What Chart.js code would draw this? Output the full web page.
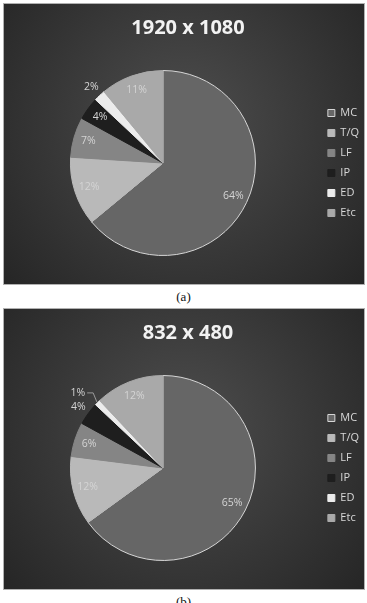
<!DOCTYPE html>
<html>
<head>
<meta charset="utf-8">
<script src="https://cdn.jsdelivr.net/npm/chart.js@4.4.0/dist/chart.umd.min.js"></script>
<style>
  html, body { margin: 0; padding: 0; background: #fff; }
  body { width: 367px; height: 603px; position: relative; overflow: hidden; }
  .panel { position: absolute; left: 3px; width: 362px; height: 282px; border: 1px solid #b0b0b0; box-sizing: border-box; }
  .panel canvas { display: block; }
  .cap { position: absolute; left: 0; width: 367px; text-align: center; font-family: "Liberation Serif", serif; font-size: 13px; color: #111; }
</style>
</head>
<body>
<div class="panel" style="top:3px"><canvas id="chartA" width="360" height="280"></canvas></div>
<div class="cap" style="top:289px">(a)</div>
<div class="panel" style="top:308px"><canvas id="chartB" width="360" height="280"></canvas></div>
<div class="cap" style="top:594px">(b)</div>
<script>
const categories = ['MC', 'T/Q', 'LF', 'IP', 'ED', 'Etc'];
const valuesA = [64, 12, 7, 4, 2, 11];
const valuesB = [65, 12, 6, 4, 1, 12];
const titleA = '1920 x 1080';
const titleB = '832 x 480';

const sliceColors = ['#666666', '#b9b9b9', '#858585', '#1e1e1e', '#ececec', '#a9a9a9'];
const sliceBorders = ['#d6d6d6', '#b9b9b9', '#858585', '#1e1e1e', '#ececec', '#a9a9a9'];

// dark radial background
const bgPlugin = {
    id: 'bg',
    beforeDraw(chart) {
        const {ctx, width, height} = chart;
        const g = ctx.createRadialGradient(width * 0.5, height * 0.42, 10, width * 0.5, height * 0.45, width * 0.72);
        g.addColorStop(0, '#4c4c4c');
        g.addColorStop(1, '#222222');
        ctx.save();
        ctx.fillStyle = g;
        ctx.fillRect(0, 0, width, height);
        ctx.restore();
    }
};

// percent labels on the slices
const pctPlugin = {
    id: 'pct',
    afterDatasetsDraw(chart, args, opts) {
        const {ctx} = chart;
        const meta = chart.getDatasetMeta(0);
        const data = chart.data.datasets[0].data;
        const outside = opts.outside || [];
        const leader = opts.leader || [];
        ctx.save();
        ctx.font = '10.5px "Open Sans", sans-serif';
        ctx.fillStyle = '#d4d4d4';
        ctx.textAlign = 'center';
        ctx.textBaseline = 'middle';
        meta.data.forEach((arc, i) => {
            const p = arc.getProps(['x', 'y', 'startAngle', 'endAngle', 'outerRadius'], true);
            const mid = (p.startAngle + p.endAngle) / 2;
            let r = p.outerRadius * 0.84;
            if (outside.includes(i)) r = p.outerRadius * 1.13;
            if (leader.includes(i)) r = p.outerRadius * 1.24;
            const lx = p.x + Math.cos(mid) * r - (leader.includes(i) ? 4 : 0);
            const ly = p.y + Math.sin(mid) * r + (leader.includes(i) ? 6 : 0);
            const txt = data[i] + '%';
            if (leader.includes(i)) {
                const w = ctx.measureText(txt).width;
                ctx.strokeStyle = '#9a9a9a';
                ctx.lineWidth = 1;
                ctx.beginPath();
                ctx.moveTo(lx + w / 2 + 2, ly);
                ctx.lineTo(lx + w / 2 + 8, ly);
                ctx.lineTo(p.x + Math.cos(mid) * p.outerRadius * 1.01, p.y + Math.sin(mid) * p.outerRadius * 1.01);
                ctx.stroke();
            }
            ctx.fillText(txt, lx, ly);
        });
        ctx.restore();
    }
};

function makePie(id, title, values, outside, leader) {
    return new Chart(document.getElementById(id), {
        type: 'pie',
        data: {
            labels: categories,
            datasets: [{
                data: values,
                backgroundColor: sliceColors,
                borderColor: sliceBorders,
                borderWidth: 1
            }]
        },
        options: {
            responsive: false,
            animation: false,
            layout: { padding: { left: 3, right: -5, top: 0, bottom: 28 } },
            plugins: {
                title: {
                    display: true,
                    text: title,
                    color: '#f2f2f2',
                    font: { family: 'Noto Sans', size: 20, weight: 'bold' },
                    padding: { top: 12, bottom: 30 }
                },
                legend: {
                    position: 'right',
                    fullSize: false,
                    labels: {
                        color: '#d8d8d8',
                        boxWidth: 7,
                        boxHeight: 7,
                        padding: 9,
                        font: { family: 'Open Sans', size: 11 }
                    }
                },
                tooltip: { enabled: false },
                pct: { outside: outside, leader: leader }
            }
        },
        plugins: [bgPlugin, pctPlugin]
    });
}

makePie('chartA', titleA, valuesA, [4], []);
makePie('chartB', titleB, valuesB, [3], [4]);
</script>
</body>
</html>
